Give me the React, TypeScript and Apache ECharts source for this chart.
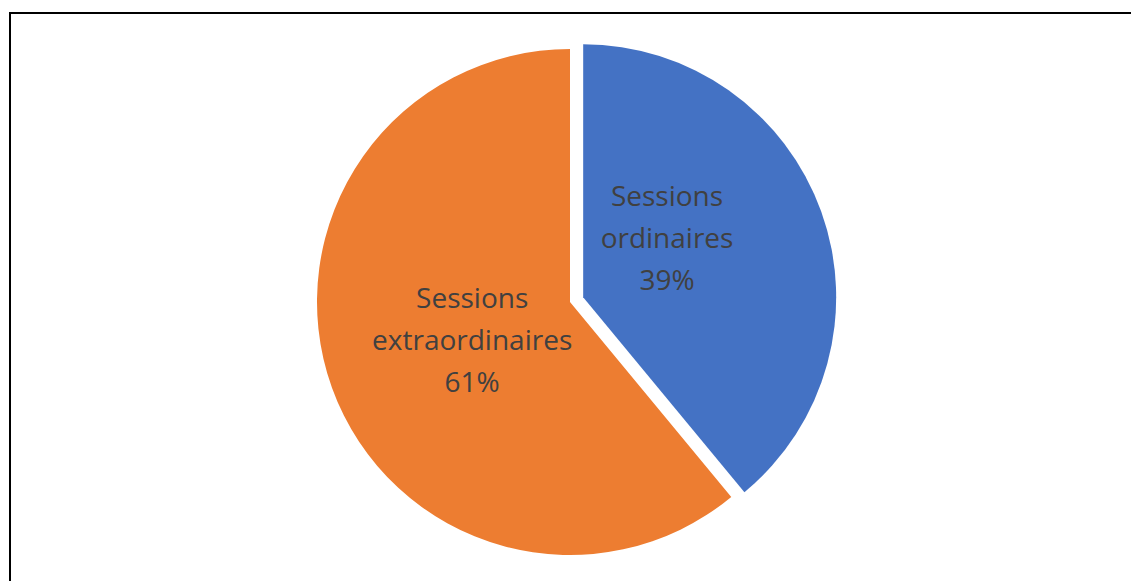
import React, { useEffect, useRef } from "react";
import * as echarts from "echarts";

const categories = ["Sessions ordinaires", "Sessions extraordinaires"];
const values = [39, 61];
const colors = ["#4472C4", "#ED7D31"];

export default function App() {
  const ref = useRef<HTMLDivElement>(null);
  useEffect(() => {
    if (!ref.current) return;
    const chart = echarts.init(ref.current, undefined, { renderer: "svg" });
    const labelOffsets = [
      [-38, -16],
      [24, -7],
    ];
    chart.setOption({
      animation: false,
      backgroundColor: "#ffffff",
      graphic: [
        { type: "line", shape: { x1: 9, y1: 13, x2: 1131, y2: 13 }, style: { stroke: "#000", lineWidth: 2 } },
        { type: "line", shape: { x1: 10, y1: 12, x2: 10, y2: 581 }, style: { stroke: "#000", lineWidth: 2 } },
      ],
      series: [
        {
          type: "pie",
          center: [570, 302],
          radius: 253,
          startAngle: 90,
          clockwise: true,
          selectedMode: "single",
          selectedOffset: 14,
          percentPrecision: 0,
          emphasis: { disabled: true },
          itemStyle: { borderWidth: 0 },
          label: {
            show: true,
            position: "inside",
            formatter: (p: any) => `${p.name.replace(" ", "\n")}\n${p.percent}%`,
            color: "#404040",
            fontFamily: "Open Sans",
            fontSize: 28,
            lineHeight: 42,
            align: "center",
          },
          labelLine: { show: false },
          data: categories.map((name, i) => ({
            name,
            value: values[i],
            selected: i === 0,
            itemStyle: { color: colors[i] },
            label: { offset: labelOffsets[i] },
            select: { label: { offset: labelOffsets[i] } },
          })),
        },
      ],
    });
    return () => chart.dispose();
  }, []);
  return <div ref={ref} style={{ position: "absolute", left: 0, top: 0, width: 1131, height: 581 }} />;
}
